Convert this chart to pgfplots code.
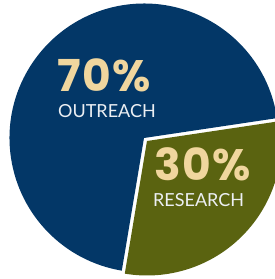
\documentclass[border=0pt]{standalone}
\usepackage{fontspec}
\usepackage{pgfplots}
\usepackage{pgfplotstable}
\pgfplotsset{compat=1.18}
\newfontfamily\numfont{Poppins}[LetterSpace=3]
\newfontfamily\labfont{Lato}
\definecolor{navy}{RGB}{3,55,103}
\definecolor{olive}{RGB}{90,99,16}
\definecolor{beige}{RGB}{240,214,158}
\definecolor{labwhite}{RGB}{236,239,243}
\pgfplotstableread{
label value
Outreach 70
Research 30
}\piedata
\pgfplotstablegetelem{0}{value}\of\piedata
\let\valA\pgfplotsretval
\pgfplotstablegetelem{1}{value}\of\piedata
\let\valB\pgfplotsretval
\def\startB{260.5}
\pgfmathsetmacro\endB{\startB+3.6*\valB}
\pgfmathsetmacro\endA{\endB-360+3.6*\valA}
\pgfmathsetmacro\startA{\endB-360}
\def\R{134.5pt}
\begin{document}
\begin{tikzpicture}
\begin{axis}[
  scale only axis, width=277pt, height=279pt,
  xmin=0, xmax=277, ymin=0, ymax=279,
  hide axis, clip=true,
]
\fill[navy] (axis cs:146,141) -- ++(\startA:\R) arc[start angle=\startA, end angle=\endA, radius=\R] -- cycle;
\fill[olive] (axis cs:149,138) -- ++(\startB:\R) arc[start angle=\startB, end angle=\endB, radius=\R] -- cycle;
\node[anchor=base west, inner sep=0, text=beige, font=\numfont\bfseries\fontsize{44}{44}\selectfont] at (axis cs:59,187) {\smash{\valA\%}};
\node[anchor=base west, inner sep=0, text=labwhite, font=\labfont\fontsize{18}{18}\selectfont] at (axis cs:60,161) {\smash{OUTREACH}};
\node[anchor=base west, inner sep=0, text=beige, font=\numfont\bfseries\fontsize{44}{44}\selectfont] at (axis cs:156,98) {\smash{\valB\%}};
\node[anchor=base west, inner sep=0, text=labwhite, font=\labfont\fontsize{18}{18}\selectfont] at (axis cs:155,72) {\smash{RESEARCH}};
\end{axis}
\end{tikzpicture}
\end{document}
